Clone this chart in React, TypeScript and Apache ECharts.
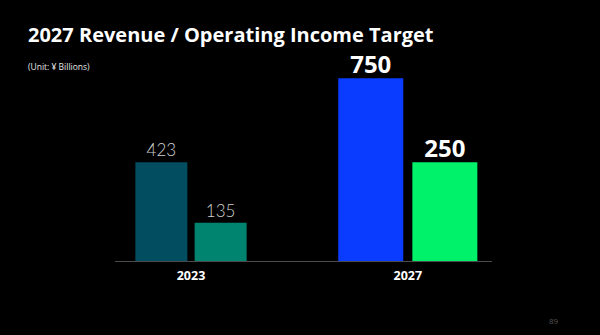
import React, { useEffect, useRef } from "react";
import * as echarts from "echarts";

const categories = ["2023", "2027"];
const revenue = [423, 750];
const operatingIncome = [135, 250];
const titleText = "2027 Revenue / Operating Income Target";
const unitText = "(Unit: ¥ Billions)";
const pageNumber = "89";

// per-group (hidden) log-axis ranges chosen to reproduce the slide's styling
const axisMin = [65.43, 68.76];
const axisMax = [423, 750];

const revenueColors = ["#034D61", "#00836F"];
const revenueColors2027 = ["#0A3CFF", "#00F26A"];

export default function App() {
  const ref = useRef<HTMLDivElement>(null);
  useEffect(() => {
    if (!ref.current) return;
    const chart = echarts.init(ref.current, null, { renderer: "svg" });
    const grids = [
      { left: 113.5, width: 155, top: 162.3, bottom: 74 },
      { left: 327.8, width: 160, top: 78.3, bottom: 74 },
    ];
    const labelStyles = [
      { fontSize: 17, fontWeight: 300, color: "#d0d0d0", fontFamily: "Lato", distance: 4 },
      { fontSize: 24, fontWeight: "bold", color: "#ffffff", fontFamily: "Open Sans", distance: 3 },
    ];
    const barWidths = [52, 65];
    const colorsByGroup = [
      [revenueColors[0], revenueColors[1]],
      [revenueColors2027[0], revenueColors2027[1]],
    ];
    const series: any[] = [];
    categories.forEach((cat, i) => {
      [revenue[i], operatingIncome[i]].forEach((v, j) => {
        series.push({
          type: "bar",
          name: (j === 0 ? "Revenue " : "Operating Income ") + cat,
          xAxisIndex: i,
          yAxisIndex: i,
          data: [v],
          barWidth: barWidths[i],
          barGap: "14%",
          clip: true,
          itemStyle: { color: colorsByGroup[i][j] },
          label: {
            show: true,
            position: "top",
            distance: labelStyles[i].distance,
            fontSize: labelStyles[i].fontSize,
            fontWeight: labelStyles[i].fontWeight,
            color: labelStyles[i].color,
            fontFamily: labelStyles[i].fontFamily,
          },
        });
      });
    });
    chart.setOption({
      animation: false,
      backgroundColor: "#000000",
      grid: grids,
      xAxis: categories.map((c, i) => ({
        type: "category",
        gridIndex: i,
        data: [c],
        axisLine: { show: false },
        axisTick: { show: false },
        axisLabel: {
          color: "#ffffff",
          fontWeight: "bold",
          fontSize: 12.5,
          fontFamily: "Open Sans",
          margin: 8,
        },
      })),
      yAxis: categories.map((c, i) => ({
        type: "log",
        gridIndex: i,
        min: axisMin[i],
        max: axisMax[i],
        show: false,
        splitLine: { show: false },
      })),
      series,
      graphic: [
        {
          type: "line",
          shape: { x1: 115, y1: 261.5, x2: 492, y2: 261.5 },
          style: { stroke: "#4a4a4a", lineWidth: 1 },
          z: 10,
        },
        {
          type: "text",
          left: 28,
          top: 24,
          style: {
            text: titleText,
            fill: "#ffffff",
            fontSize: 20,
            fontWeight: "bold",
            fontFamily: "Open Sans",
          },
        },
        {
          type: "text",
          left: 28,
          top: 62,
          style: {
            text: unitText,
            fill: "#e6e6e6",
            fontSize: 8.5,
            fontFamily: "Open Sans",
          },
        },
        {
          type: "text",
          left: 549,
          top: 316,
          style: {
            text: pageNumber,
            fill: "#555555",
            fontSize: 8,
            fontFamily: "Open Sans",
          },
        },
      ],
    });
    return () => chart.dispose();
  }, []);
  return (
    <div
      ref={ref}
      style={{ width: 600, height: 335, position: "absolute", left: 0, top: 0 }}
    />
  );
}
